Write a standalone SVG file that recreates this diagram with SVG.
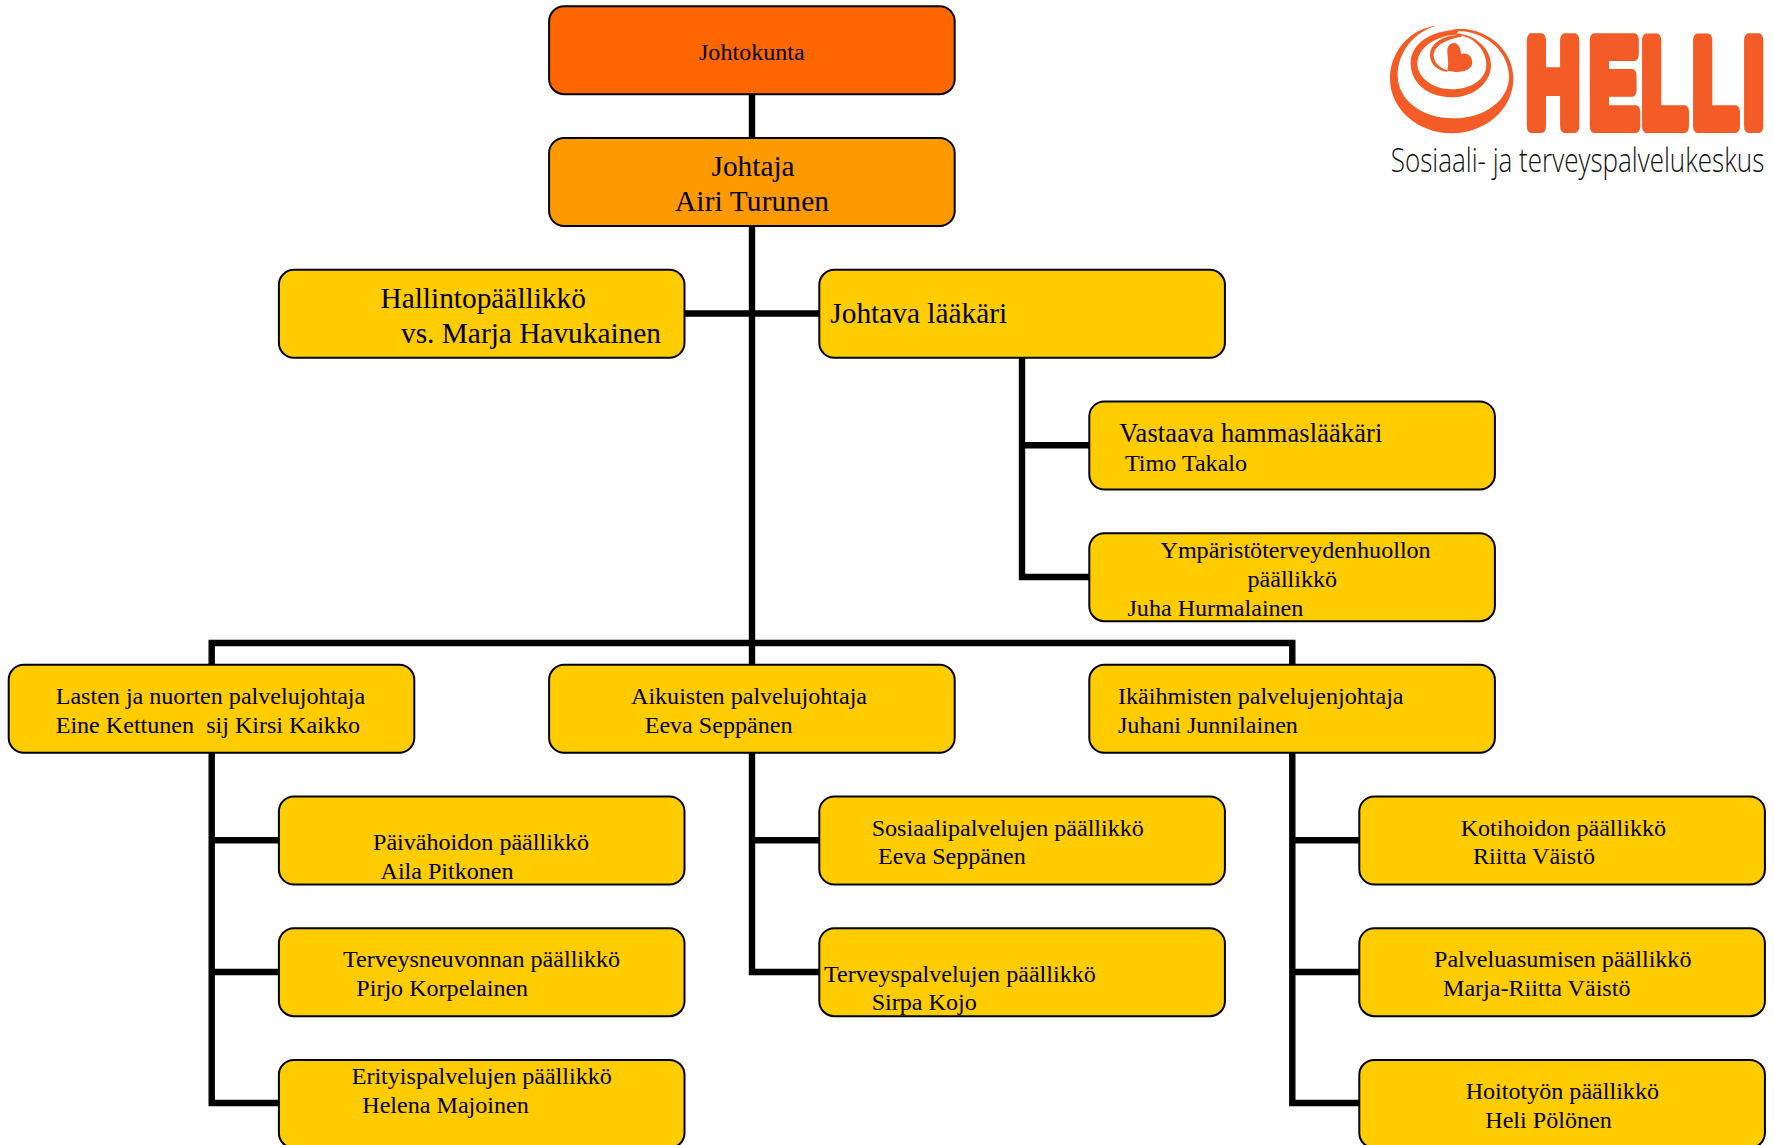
<svg xmlns="http://www.w3.org/2000/svg" width="1774" height="1145" viewBox="0 0 1774 1145">
<style>
text{font-family:"Liberation Serif","Times New Roman",serif;fill:#000;white-space:pre}
.box{stroke:#000;stroke-width:2;rx:15px;ry:15px}
.o1{fill:#FF6600}.o2{fill:#FF9900}.y{fill:#FFCC00}
.m{font-size:24.08px}.l{font-size:29.35px}.v{font-size:26.4px}
.c{fill:none;stroke:#000;stroke-width:6.4}
.lo{fill:#F35C26}.lw{fill:#fff}
</style>
<rect width="1774" height="1145" fill="#fff"/>
<g id="connectors">
<path class="c" d="M752 94V664"/>
<path class="c" d="M685 313.5H819"/>
<path class="c" d="M1022 357.5V577H1089M1022 445.3H1089"/>
<path class="c" d="M211.7 664V643H1292.3V664"/>
<path class="c" d="M211.7 752V1103H279M211.7 840.3H279M211.7 972H279"/>
<path class="c" d="M752 752V972H819M752 840.3H819"/>
<path class="c" d="M1292.3 752V1103H1359M1292.3 840.3H1359M1292.3 972H1359"/>
</g>
<g id="n-johtokunta"><rect class="box o1" x="549.1" y="6.2" width="405.6" height="88"/><text class="m" x="699" y="60">Johtokunta</text></g>
<g id="n-johtaja"><rect class="box o2" x="549.1" y="138" width="405.6" height="88"/><text class="l" x="711.5" y="176">Johtaja</text><text class="l" x="675" y="210.7" textLength="154">Airi Turunen</text></g>
<g id="n-hallinto"><rect class="box y" x="278.9" y="269.8" width="405.6" height="88"/><text class="l" x="380.5" y="308">Hallintopäällikkö</text><text class="l" x="401" y="342.7">vs. Marja Havukainen</text></g>
<g id="n-laakari"><rect class="box y" x="819.3" y="269.8" width="405.6" height="88"/><text class="l" x="830.3" y="322.7">Johtava lääkäri</text></g>
<g id="n-hammas"><rect class="box y" x="1089.3" y="401.5" width="405.6" height="88"/><text class="v" x="1119.3" y="441.7" textLength="263">Vastaava hammaslääkäri</text><text class="m" x="1125" y="471">Timo Takalo</text></g>
<g id="n-ymparisto"><rect class="box y" x="1089.3" y="533.2" width="405.6" height="88"/><text class="m" x="1160.5" y="558.3">Ympäristöterveydenhuollon</text><text class="m" x="1247.5" y="587.3">päällikkö</text><text class="m" x="1127.5" y="616">Juha Hurmalainen</text></g>
<g id="n-lasten"><rect class="box y" x="8.7" y="664.8" width="405.6" height="88"/><text class="m" x="55.7" y="704">Lasten ja nuorten palvelujohtaja</text><text class="m" x="55.7" y="733.3">Eine Kettunen  sij Kirsi Kaikko</text></g>
<g id="n-aikuisten"><rect class="box y" x="549.1" y="664.8" width="405.6" height="88"/><text class="m" x="631" y="704">Aikuisten palvelujohtaja</text><text class="m" x="644.7" y="733">Eeva Seppänen</text></g>
<g id="n-ikaihmisten"><rect class="box y" x="1089.3" y="664.8" width="405.6" height="88"/><text class="m" x="1118" y="704">Ikäihmisten palvelujenjohtaja</text><text class="m" x="1118" y="733">Juhani Junnilainen</text></g>
<g id="n-paivahoito"><rect class="box y" x="278.9" y="796.5" width="405.6" height="88"/><text class="m" x="373" y="850">Päivähoidon päällikkö</text><text class="m" x="380.5" y="879">Aila Pitkonen</text></g>
<g id="n-terveysneuvonta"><rect class="box y" x="278.9" y="928.2" width="405.6" height="88"/><text class="m" x="343" y="966.7">Terveysneuvonnan päällikkö</text><text class="m" x="356.3" y="996">Pirjo Korpelainen</text></g>
<g id="n-erityis"><rect class="box y" x="278.9" y="1059.9" width="405.6" height="88"/><text class="m" x="351.7" y="1084">Erityispalvelujen päällikkö</text><text class="m" x="362.3" y="1112.7">Helena Majoinen</text></g>
<g id="n-sosiaali"><rect class="box y" x="819.3" y="796.5" width="405.6" height="88"/><text class="m" x="871.7" y="835.7">Sosiaalipalvelujen päällikkö</text><text class="m" x="878" y="864">Eeva Seppänen</text></g>
<g id="n-terveys"><rect class="box y" x="819.3" y="928.2" width="405.6" height="88"/><text class="m" x="824" y="981.7">Terveyspalvelujen päällikkö</text><text class="m" x="871.7" y="1010">Sirpa Kojo</text></g>
<g id="n-kotihoito"><rect class="box y" x="1359.3" y="796.5" width="405.6" height="88"/><text class="m" x="1460.7" y="835.7">Kotihoidon päällikkö</text><text class="m" x="1473" y="864">Riitta Väistö</text></g>
<g id="n-palveluasuminen"><rect class="box y" x="1359.3" y="928.2" width="405.6" height="88"/><text class="m" x="1434" y="966.7">Palveluasumisen päällikkö</text><text class="m" x="1443" y="996">Marja-Riitta Väistö</text></g>
<g id="n-hoitotyo"><rect class="box y" x="1359.3" y="1059.9" width="405.6" height="88"/><text class="m" x="1465.7" y="1099">Hoitotyön päällikkö</text><text class="m" x="1485.3" y="1127.7">Heli Pölönen</text></g>
<g id="logo">
<g transform="translate(1385 20) scale(.3333)">
<path class="lo" d="M155 17C75 25 15 95 15 175C15 270 100 340 200 340C300 340 385 270 385 175C385 95 315 28 225 26L190 30Z"/>
<path class="lw" d="M155 17C85 35 38 100 38 165C38 240 110 295 205 295C300 295 372 240 372 170C372 100 310 38 225 33L190 27Z"/>
<path class="lo" d="M225 29C130 30 77 75 77 130C77 190 130 232 200 232C265 232 318 190 318 135C318 85 270 45 215 40Z"/>
<path class="lw" d="M215 44C150 46 97 85 97 130C97 175 145 208 200 208C258 208 304 178 304 135C304 90 265 47 215 44Z"/>
<path class="lo" d="M230 44C175 44 135 70 135 105C135 135 160 152 187 156L187 150C165 145 146 128 146 105C146 80 180 58 230 50Z"/>
<path class="lo" d="M187 95C186 78 195 69 207 69C220 69 228 85 228 103C240 95 262 105 262 127C262 148 238 157 212 156L187 152C192 135 188 115 187 95Z"/>
</g>
<text transform="translate(1526 126.3) scale(.6 1)" x="0 105 192 277 362" y="0" style="font-family:'Liberation Sans',Arial,sans-serif;font-weight:700;font-size:125px;fill:#F35C26;stroke:#F35C26;stroke-width:14;stroke-linejoin:round">HELLI</text>
<text transform="translate(1390.7 171.7) scale(.8 1)" x="0" y="0" textLength="467" lengthAdjust="spacingAndGlyphs" style="font-family:'Open Sans',sans-serif;font-weight:300;font-size:33px;fill:#111">Sosiaali- ja terveyspalvelukeskus</text>
</g>
</svg>
